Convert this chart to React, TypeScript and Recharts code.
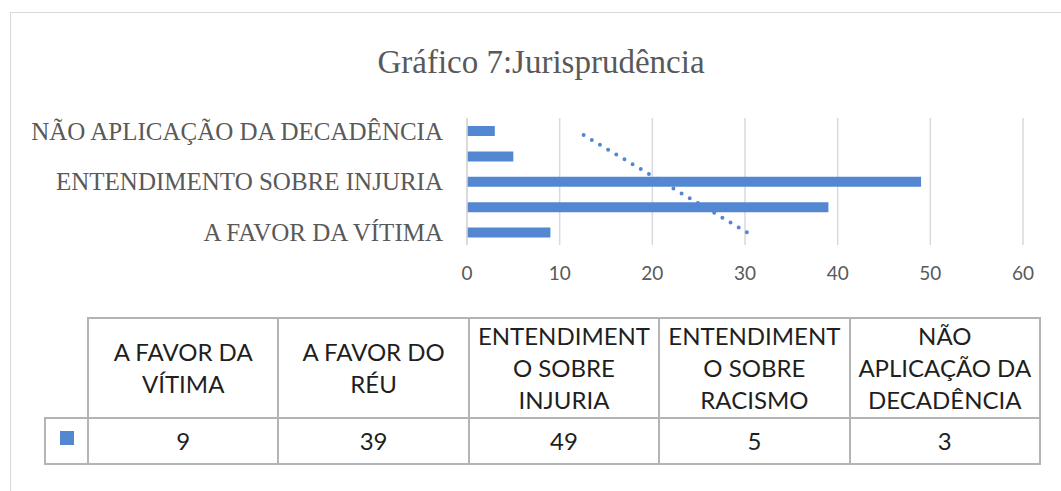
import { ComposedChart, Bar, Line, XAxis, YAxis, CartesianGrid } from "recharts";

const categories = [
  "A FAVOR DA VÍTIMA",
  "A FAVOR DO RÉU",
  "ENTENDIMENTO SOBRE INJURIA",
  "ENTENDIMENTO SOBRE RACISMO",
  "NÃO APLICAÇÃO DA DECADÊNCIA",
];
const values = [9, 39, 49, 5, 3];
// linear trendline (about 30 at the bottom, 12 at the top)
const trend = [30.2, 25.6, 21.0, 16.4, 11.8];
const xTicks = [0, 10, 20, 30, 40, 50, 60];

const BLUE = "#5487d1";
const GRID = "#d9d9d9";
const TEXT = "#595959";
const TABLE_BORDER = "2px solid #b4b4b4";

const data = categories.map((name, i) => ({ name, value: values[i], trend: trend[i] }));

export default function App() {
  const cell: React.CSSProperties = {
    border: TABLE_BORDER,
    padding: "0 6px",
    textAlign: "center",
    verticalAlign: "middle",
    overflowWrap: "anywhere",
  };

  return (
    <div
      style={{
        position: "absolute",
        left: 0,
        top: 0,
        width: 1061,
        height: 491,
        overflow: "hidden",
        background: "#fff",
      }}
    >
      <div
        style={{
          position: "absolute",
          left: 10,
          top: 12,
          width: 1200,
          height: 700,
          border: "1px solid #d9d9d9",
        }}
      />
      <div
        style={{
          position: "absolute",
          left: 0,
          top: 40,
          width: 1082,
          textAlign: "center",
          fontFamily: "'Liberation Serif', serif",
          fontSize: 33,
          color: TEXT,
          lineHeight: "44px",
        }}
      >
        Gráfico 7:Jurisprudência
      </div>

      <div style={{ position: "absolute", left: 0, top: 0 }}>
        <ComposedChart
          width={1061}
          height={300}
          data={data}
          layout="vertical"
          margin={{ top: 118, right: 38, bottom: 15, left: 0 }}
          barCategoryGap={0}
        >
          <CartesianGrid horizontal={false} stroke={GRID} strokeWidth={1.5} />
          <XAxis
            type="number"
            domain={[0, 60]}
            ticks={xTicks}
            axisLine={false}
            tickLine={false}
            tickSize={0}
            tickMargin={22}
            height={40}
            tick={{ fill: TEXT, fontSize: 19, fontFamily: "Lato, sans-serif" }}
          />
          <YAxis
            type="category"
            dataKey="name"
            reversed
            interval={1}
            width={467}
            axisLine={{ stroke: GRID, strokeWidth: 1.5 }}
            tickLine={false}
            tickSize={0}
            tickMargin={24}
            tick={{ fill: TEXT, fontSize: 25, fontFamily: "'Liberation Serif', serif" }}
          />
          <Bar dataKey="value" fill={BLUE} barSize={10} isAnimationActive={false} />
          <Line
            dataKey="trend"
            stroke={BLUE}
            strokeWidth={4}
            strokeDasharray="0 9.5"
            strokeLinecap="round"
            dot={false}
            activeDot={false}
            isAnimationActive={false}
          />
        </ComposedChart>
      </div>

      <table
        style={{
          position: "absolute",
          left: 44,
          top: 317,
          width: 995,
          borderCollapse: "collapse",
          tableLayout: "fixed",
          fontFamily: "Lato, sans-serif",
          fontSize: 24,
          lineHeight: "32px",
          color: "#1f1f1f",
        }}
      >
        <colgroup>
          <col style={{ width: 43 }} />
          {categories.map((c) => (
            <col key={c} style={{ width: 190.4 }} />
          ))}
        </colgroup>
        <tbody>
          <tr style={{ height: 100 }}>
            <td style={{ border: "none" }} />
            {categories.map((c) => (
              <td key={c} style={cell}>
                {c}
              </td>
            ))}
          </tr>
          <tr style={{ height: 46 }}>
            <td style={{ border: TABLE_BORDER, textAlign: "center", verticalAlign: "middle", padding: 0 }}>
              <div style={{ width: 14, height: 14, background: BLUE, margin: "0 auto", position: "relative", top: -3 }} />
            </td>
            {values.map((v, i) => (
              <td key={categories[i]} style={cell}>
                {v}
              </td>
            ))}
          </tr>
        </tbody>
      </table>
    </div>
  );
}
